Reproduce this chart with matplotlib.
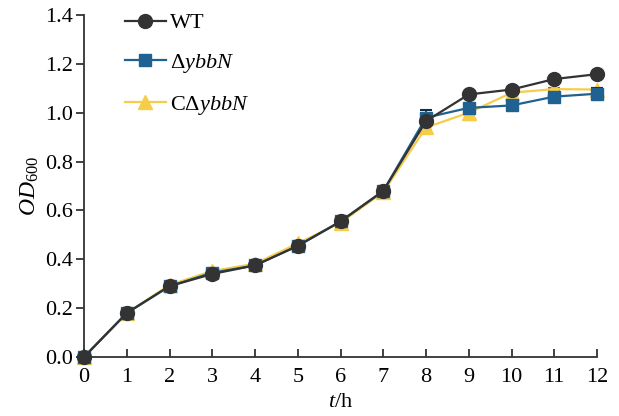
import matplotlib
matplotlib.use("Agg")
import matplotlib.pyplot as plt
from matplotlib.lines import Line2D

hours = [0, 1, 2, 3, 4, 5, 6, 7, 8, 9, 10, 11, 12]
wt = [0.0, 0.18, 0.29, 0.34, 0.375, 0.455, 0.555, 0.68, 0.966, 1.075, 1.095, 1.138, 1.158]
wt_err = [0.0, 0.005, 0.005, 0.005, 0.005, 0.005, 0.005, 0.005, 0.01, 0.005, 0.005, 0.005, 0.005]
dybbn = [0.0, 0.18, 0.29, 0.345, 0.375, 0.455, 0.555, 0.68, 0.98, 1.02, 1.03, 1.066, 1.078]
dybbn_err = [0.0, 0.005, 0.005, 0.005, 0.005, 0.005, 0.005, 0.005, 0.032, 0.005, 0.005, 0.005, 0.022]
cdybbn = [0.0, 0.18, 0.295, 0.352, 0.382, 0.465, 0.55, 0.675, 0.94, 1.0, 1.082, 1.097, 1.095]
cdybbn_err = [0.0, 0.005, 0.005, 0.01, 0.005, 0.01, 0.005, 0.005, 0.01, 0.03, 0.005, 0.005, 0.005]

labels = ["WT", r"$\Delta\mathit{ybbN}$", r"C$\Delta\mathit{ybbN}$"]
xticks = list(range(0, 13))
yticks = [0.0, 0.2, 0.4, 0.6, 0.8, 1.0, 1.2, 1.4]

plt.rcParams['font.family'] = 'serif'
plt.rcParams['font.serif'] = ['Liberation Serif', 'DejaVu Serif']
plt.rcParams['mathtext.fontset'] = 'custom'
plt.rcParams['mathtext.rm'] = 'Liberation Serif'
plt.rcParams['mathtext.it'] = 'Liberation Serif:italic'
plt.rcParams['mathtext.default'] = 'regular'

fig = plt.figure(figsize=(6.19, 4.16), dpi=100)
ax = fig.add_axes([0.1357, 0.1418, 0.8288, 0.822])

c_wt = "#333333"
c_d = "#1f6190"
c_c = "#f5cd48"

styles = [
    (cdybbn, cdybbn_err, c_c, "#8a7030", "^", 10, 3),
    (dybbn, dybbn_err, c_d, "#0f2f48", "s", 9, 4),
    (wt, wt_err, c_wt, c_wt, "o", 10, 5),
]
for y, e, col, ecol, mk, ms, z in styles:
    ax.errorbar(hours, y, yerr=e, color=col, ecolor=ecol, marker=mk,
                markersize=ms, lw=1.6, capsize=4, elinewidth=1.2, capthick=1.5,
                zorder=z, clip_on=False)

ax.set_xlim(0, 12)
ax.set_ylim(0, 1.4)
ax.set_xticks(xticks)
ax.set_yticks(yticks)
ax.set_yticklabels([f"{v:.1f}" for v in yticks])
ax.spines['top'].set_visible(False)
ax.spines['right'].set_visible(False)
for s in ('left', 'bottom'):
    ax.spines[s].set_linewidth(1.3)
    ax.spines[s].set_color("#333333")
ax.tick_params(axis='x', direction='in', length=6, width=1.3, labelsize=16, pad=8, color="#333333")
ax.tick_params(axis='y', direction='out', length=6, width=1.3, labelsize=16, pad=2, color="#333333")

ax.set_xlabel(r"$\mathit{t}$/h", fontsize=16, labelpad=4)
ax.set_ylabel(r"$\mathit{OD}_{600}$", fontsize=17, labelpad=3)

handles = [
    Line2D([], [], color=c_wt, marker="o", markersize=10, lw=1.6),
    Line2D([], [], color=c_d, marker="s", markersize=9, lw=1.6),
    Line2D([], [], color=c_c, marker="^", markersize=10, lw=1.6),
]
leg = ax.legend(handles, labels,
                loc="upper left", bbox_to_anchor=(0.04, 1.065), frameon=False,
                fontsize=16, handlelength=1.85, labelspacing=0.85, handletextpad=0.2)

fig.savefig("out.png", dpi=100)
